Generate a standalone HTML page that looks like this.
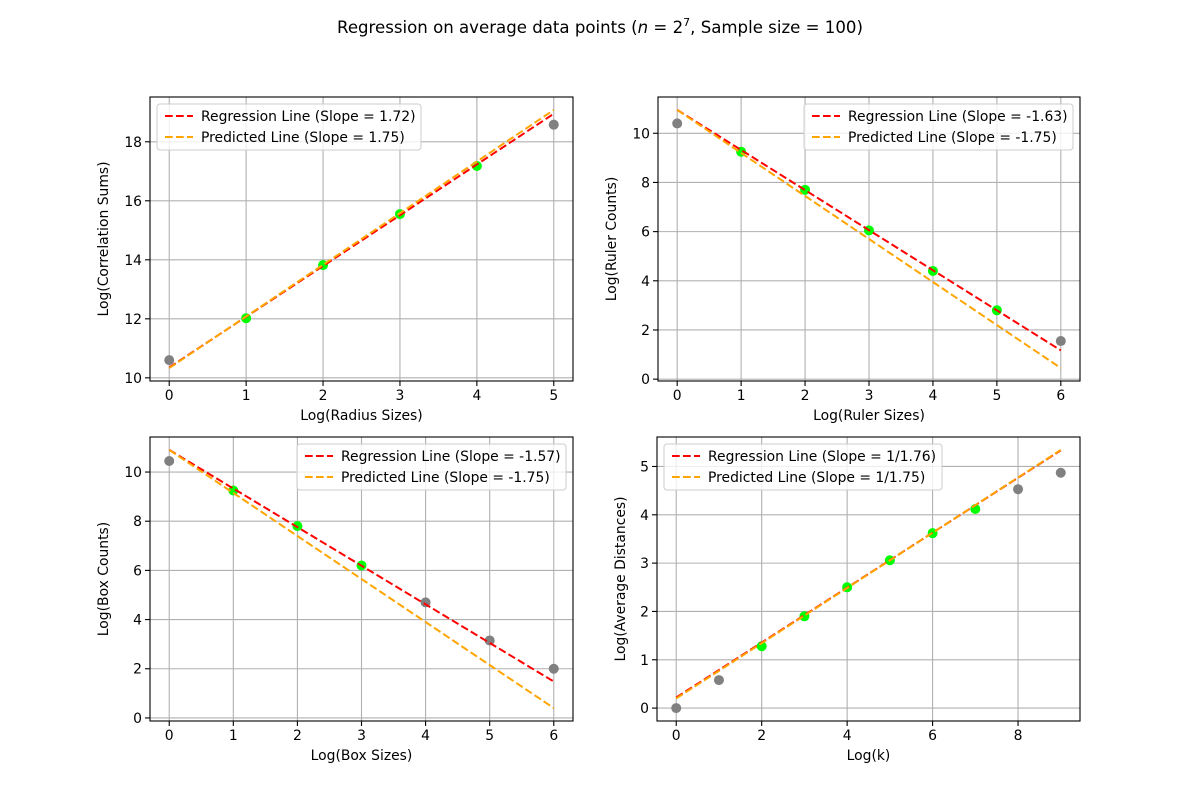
<!DOCTYPE html>
<html><head><meta charset="utf-8"><style>
body{margin:0;background:#fff}
svg{display:block;font-family:"DejaVu Sans","Liberation Sans",sans-serif}
</style></head><body>
<svg id="fig" width="1200" height="810" viewBox="0 0 1200 810">
<rect width="1200" height="810" fill="#fff"/>
<text x="600" y="33" text-anchor="middle" font-size="16.6" fill="#000">Regression on average data points (<tspan font-style="italic">n</tspan> = 2<tspan dy="-7" font-size="11">7</tspan><tspan dy="7">, Sample size = 100)</tspan></text>
</svg>
<script>
// Panel A: correlation sums
const xA=[0,1,2,3,4,5];
const yA=[10.6,12.02,13.82,15.55,17.18,18.58];
const fitA=[1,2,3,4];
const regA=[1.72,10.35], predA=[1.75,10.33];
// Panel B: ruler counts
const xB=[0,1,2,3,4,5,6];
const yB=[10.4,9.25,7.7,6.05,4.4,2.8,1.55];
const fitB=[1,2,3,4,5];
const regB=[-1.63,10.95], predB=[-1.75,10.95];
// Panel C: box counts
const xC=[0,1,2,3,4,5,6];
const yC=[10.45,9.25,7.8,6.2,4.7,3.15,2.0];
const fitC=[1,2,3];
const regC=[-1.57,10.9], predC=[-1.75,10.9];
// Panel D: average distances
const xD=[0,1,2,3,4,5,6,7,8,9];
const yD=[0,0.58,1.28,1.9,2.5,3.06,3.62,4.12,4.53,4.87];
const fitD=[2,3,4,5,6,7];
const regD=[1/1.76,0.22], predD=[1/1.75,0.2];

const xticksA=[0,1,2,3,4,5], yticksA=[10,12,14,16,18];
const xticksB=[0,1,2,3,4,5,6], yticksB=[0,2,4,6,8,10];
const xticksC=[0,1,2,3,4,5,6], yticksC=[0,2,4,6,8,10];
const xticksD=[0,2,4,6,8], yticksD=[0,1,2,3,4,5];

const NS="http://www.w3.org/2000/svg";
const svg=document.getElementById('fig');
function mk(tag,attrs,parent){const e=document.createElementNS(NS,tag);for(const k in attrs)e.setAttribute(k,attrs[k]);(parent||svg).appendChild(e);return e;}

function panel(p){
  const g=mk('g',{});
  
  
  const L=p.box[0],T=p.box[1],R=p.box[2],B=p.box[3];
  const xmax=p.x[p.x.length-1];
  const lineY=[p.reg[1],p.reg[0]*xmax+p.reg[1],p.pred[1],p.pred[0]*xmax+p.pred[1]];
  const all=p.y.concat(lineY);
  let ymin=Math.min(...all),ymax=Math.max(...all);
  const dy=(ymax-ymin)*0.05; ymin-=dy; ymax+=dy;
  const x0=-0.05*xmax,x1=xmax*1.05;
  const sx=v=>L+(v-x0)/(x1-x0)*(R-L);
  const sy=v=>B-(v-ymin)/(ymax-ymin)*(B-T);
  p.xt.forEach(t=>{
    const gl=mk('line',{x1:sx(t),x2:sx(t),y1:T,y2:B,stroke:'#b0b0b0','stroke-width':1.1},g);
    
    
    mk('line',{x1:sx(t),x2:sx(t),y1:B,y2:B+5,stroke:'#000','stroke-width':1.1},g);
    const tx=mk('text',{x:sx(t),y:B+19,'text-anchor':'middle','font-size':13.9},g);
    tx.textContent=t;
    
    
  });
  p.yt.forEach(t=>{
    const gl=mk('line',{x1:L,x2:R,y1:sy(t),y2:sy(t),stroke:'#b0b0b0','stroke-width':1.1},g);
    
    
    mk('line',{x1:L-5,x2:L,y1:sy(t),y2:sy(t),stroke:'#000','stroke-width':1.1},g);
    const tx=mk('text',{x:L-8,y:sy(t)+5,'text-anchor':'end','font-size':13.9},g);
    tx.textContent=t;
    
    
  });
  p.x.forEach((xv,i)=>{
    const c=mk('circle',{cx:sx(xv),cy:sy(p.y[i]),r:5,fill:p.fit.includes(xv)?'#00ff00':'#808080'},g);
    
    
  });
  const rl=mk('line',{x1:sx(0),y1:sy(p.reg[1]),x2:sx(xmax),y2:sy(p.reg[0]*xmax+p.reg[1]),stroke:'#ff0000','stroke-width':2,'stroke-dasharray':'7.7,3.3'},g);
  
  
  const pl=mk('line',{x1:sx(0),y1:sy(p.pred[1]),x2:sx(xmax),y2:sy(p.pred[0]*xmax+p.pred[1]),stroke:'#ffa500','stroke-width':2,'stroke-dasharray':'7.7,3.3'},g);
  
  
  const fr=mk('rect',{x:L,y:T,width:R-L,height:B-T,fill:'none',stroke:'#000','stroke-width':1.1},g);
  
  
  const xl=mk('text',{x:(L+R)/2,y:B+39,'text-anchor':'middle','font-size':13.9},g);
  xl.textContent=p.xlabel;
  
  
  const yx=L-p.ylo;
  const yl=mk('text',{x:yx,y:(T+B)/2,'text-anchor':'middle','font-size':13.9,transform:`rotate(-90 ${yx} ${(T+B)/2})`},g);
  yl.textContent=p.ylabel;
  
  
  const lg=mk('g',{},g);
  
  
  const lx=p.legLeft?L+7:R-7-p.legW, ly=T+7;
  mk('rect',{x:lx,y:ly,width:p.legW,height:46,rx:3,fill:'rgba(255,255,255,0.8)',stroke:'#cccccc','stroke-width':1},lg);
  [['#ff0000',p.regLab],['#ffa500',p.predLab]].forEach((e,i)=>{
    const yy=ly+12+i*21;
    mk('line',{x1:lx+8,x2:lx+36,y1:yy,y2:yy,stroke:e[0],'stroke-width':2,'stroke-dasharray':'7.7,3.3'},lg);
    const t=mk('text',{x:lx+44,y:yy+5,'font-size':13.9},lg);
    t.textContent=e[1];
    
    
  });
}
panel({name:'correlation-panel',box:[150,97,573,381],x:xA,y:yA,fit:fitA,reg:regA,pred:predA,xt:xticksA,yt:yticksA,xlabel:'Log(Radius Sizes)',ylabel:'Log(Correlation Sums)',ylo:42,legLeft:true,legW:264,regLab:'Regression Line (Slope = 1.72)',predLab:'Predicted Line (Slope = 1.75)'});
panel({name:'ruler-panel',box:[658,97,1080,381],x:xB,y:yB,fit:fitB,reg:regB,pred:predB,xt:xticksB,yt:yticksB,xlabel:'Log(Ruler Sizes)',ylabel:'Log(Ruler Counts)',ylo:42,legLeft:false,legW:269,regLab:'Regression Line (Slope = -1.63)',predLab:'Predicted Line (Slope = -1.75)'});
panel({name:'box-panel',box:[150,437,573,721],x:xC,y:yC,fit:fitC,reg:regC,pred:predC,xt:xticksC,yt:yticksC,xlabel:'Log(Box Sizes)',ylabel:'Log(Box Counts)',ylo:42,legLeft:false,legW:269,regLab:'Regression Line (Slope = -1.57)',predLab:'Predicted Line (Slope = -1.75)'});
panel({name:'distance-panel',box:[657,437,1080,721],x:xD,y:yD,fit:fitD,reg:regD,pred:predD,xt:xticksD,yt:yticksD,xlabel:'Log(k)',ylabel:'Log(Average Distances)',ylo:32,legLeft:true,legW:278,regLab:'Regression Line (Slope = 1/1.76)',predLab:'Predicted Line (Slope = 1/1.75)'});
</script>
</body></html>
